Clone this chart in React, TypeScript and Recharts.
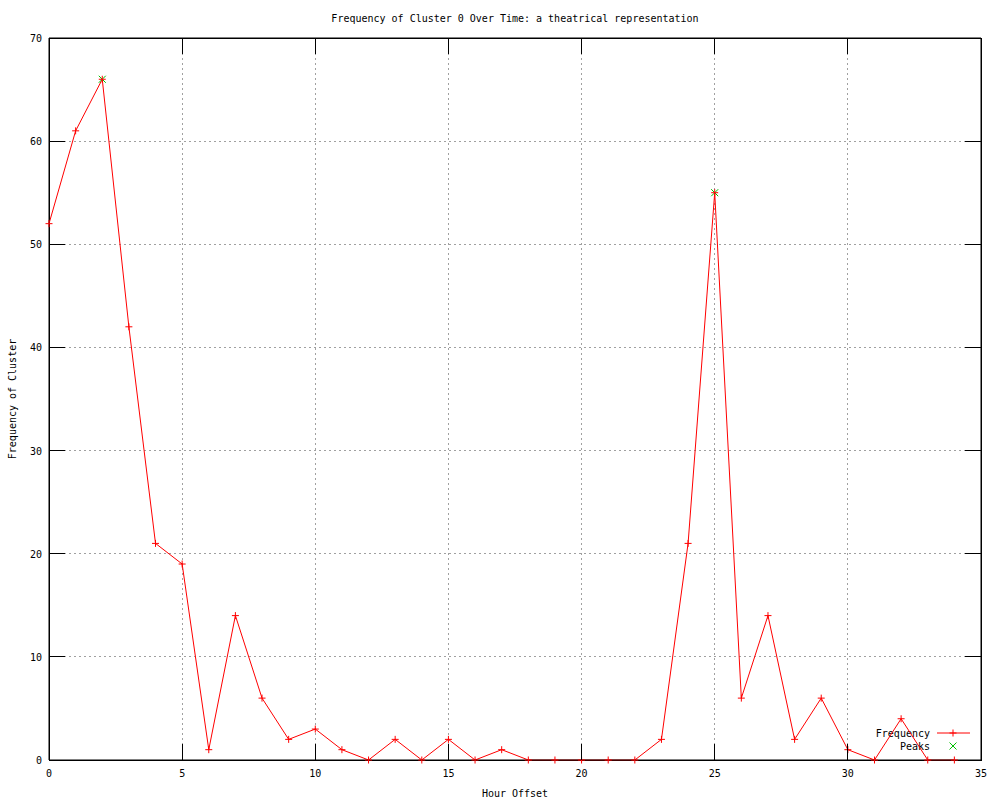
import React from 'react';
import { ComposedChart, Line, XAxis, YAxis, CartesianGrid, ReferenceArea } from 'recharts';

const hours = [0, 1, 2, 3, 4, 5, 6, 7, 8, 9, 10, 11, 12, 13, 14, 15, 16, 17, 18, 19, 20, 21, 22, 23, 24, 25, 26, 27, 28, 29, 30, 31, 32, 33, 34];
const frequency = [52, 61, 66, 42, 21, 19, 1, 14, 6, 2, 3, 1, 0, 2, 0, 2, 0, 1, 0, 0, 0, 0, 0, 2, 21, 55, 6, 14, 2, 6, 1, 0, 4, 0, 0];
const peakHours = [2, 25];
const peakValues = [66, 55];
const xTicks = [0, 5, 10, 15, 20, 25, 30, 35];
const yTicks = [0, 10, 20, 30, 40, 50, 60, 70];

const TITLE = 'Frequency of Cluster 0 Over Time: a theatrical representation';
const X_LABEL = 'Hour Offset';
const Y_LABEL = 'Frequency of Cluster';
const SERIES_NAME = 'Frequency';
const PEAKS_NAME = 'Peaks';

const freqData = hours.map((h, i) => ({ x: h, y: frequency[i] }));
const peakData = peakHours.map((h, i) => ({ x: h, y: peakValues[i] }));

const FONT = '"DejaVu Sans Mono", monospace';
const RED = '#ff0000';
const GREEN = '#00c000';
const TICK_LEN = 16;

const BottomTick = (props: any) => {
  const { x, y, payload } = props;
  return (
    <g>
      <line x1={x} y1={y} x2={x} y2={y - TICK_LEN} stroke="#000" strokeWidth={1} shapeRendering="crispEdges" />
      <text x={x} y={y + 17} textAnchor="middle" fontFamily={FONT} fontSize={10} fill="#000">
        {payload.value}
      </text>
    </g>
  );
};

const TopTick = (props: any) => {
  const { x, y } = props;
  return (
    <g>
      <line x1={x} y1={y} x2={x} y2={y + TICK_LEN} stroke="#000" strokeWidth={1} shapeRendering="crispEdges" />
    </g>
  );
};

const LeftTick = (props: any) => {
  const { x, y, payload } = props;
  return (
    <g>
      <line x1={x} y1={y} x2={x + TICK_LEN} y2={y} stroke="#000" strokeWidth={1} shapeRendering="crispEdges" />
      <text x={x - 7} y={y + 4} textAnchor="end" fontFamily={FONT} fontSize={10} fill="#000">
        {payload.value}
      </text>
    </g>
  );
};

const RightTick = (props: any) => {
  const { x, y } = props;
  return (
    <g>
      <line x1={x} y1={y} x2={x - TICK_LEN} y2={y} stroke="#000" strokeWidth={1} shapeRendering="crispEdges" />
    </g>
  );
};

const PlusDot = (props: any) => {
  const { cx, cy, index } = props;
  if (cx == null || cy == null) return <g key={`p-${index}`} />;
  return (
    <path
      key={`p-${index}`}
      d={`M${cx - 3.5},${cy}H${cx + 3.5}M${cx},${cy - 3.5}V${cy + 3.5}`}
      stroke={RED}
      strokeWidth={1}
      fill="none"
    />
  );
};

const CrossDot = (props: any) => {
  const { cx, cy, index } = props;
  if (cx == null || cy == null) return <g key={`c-${index}`} />;
  return (
    <path
      key={`c-${index}`}
      d={`M${cx - 3.5},${cy - 3.5}L${cx + 3.5},${cy + 3.5}M${cx - 3.5},${cy + 3.5}L${cx + 3.5},${cy - 3.5}`}
      stroke={GREEN}
      strokeWidth={1}
      fill="none"
    />
  );
};

const YLabel = (props: any) => {
  const vb = props.viewBox || { x: 0, y: 38, width: 49, height: 722 };
  const cx = vb.x + 16;
  const cy = vb.y + vb.height / 2;
  return (
    <text
      x={cx}
      y={cy}
      transform={`rotate(-90, ${cx}, ${cy})`}
      textAnchor="middle"
      fontFamily={FONT}
      fontSize={10}
      fill="#000"
    >
      {Y_LABEL}
    </text>
  );
};

export default function App() {
  return (
    <div style={{ position: 'absolute', left: 0, top: 0, width: 1000, height: 800, background: '#fff' }}>
      <ComposedChart width={1000} height={800} margin={{ top: 37, right: 18, bottom: 0, left: 0 }}>
        <CartesianGrid stroke="#a0a0a0" strokeDasharray="2 3" shapeRendering="crispEdges" />
        <XAxis
          dataKey="x"
          type="number"
          domain={[0, 35]}
          ticks={xTicks}
          height={40}
          tickSize={0}
          tickMargin={0}
          tickLine={false}
          tick={<BottomTick />}
          stroke="#000"
          interval={0}
          label={{ value: X_LABEL, position: 'insideBottom', offset: 3, fontFamily: FONT, fontSize: 10, fill: '#000' }}
        />
        <XAxis
          xAxisId="top"
          orientation="top"
          dataKey="x"
          type="number"
          domain={[0, 35]}
          ticks={xTicks}
          height={1}
          tickSize={0}
          tickMargin={0}
          tickLine={false}
          tick={<TopTick />}
          stroke="#000"
          interval={0}
        />
        <YAxis
          dataKey="y"
          type="number"
          domain={[0, 70]}
          ticks={yTicks}
          width={49}
          tickSize={0}
          tickMargin={0}
          tickLine={false}
          tick={<LeftTick />}
          stroke="#000"
          interval={0}
          label={<YLabel />}
        />
        <YAxis
          yAxisId="right"
          orientation="right"
          dataKey="y"
          type="number"
          domain={[0, 70]}
          ticks={yTicks}
          width={1}
          tickSize={0}
          tickMargin={0}
          tickLine={false}
          tick={<RightTick />}
          stroke="#000"
          interval={0}
        />
        <ReferenceArea
          x1={0}
          x2={35}
          y1={0}
          y2={70}
          fill="none"
          fillOpacity={0}
          stroke="#000"
          strokeWidth={1}
          ifOverflow="visible"
          shapeRendering="crispEdges"
        />
        <Line
          data={peakData}
          xAxisId="top"
          yAxisId="right"
          dataKey="y"
          name={PEAKS_NAME}
          stroke="none"
          dot={CrossDot}
          activeDot={false}
          isAnimationActive={false}
          legendType="none"
        />
        <Line
          data={freqData}
          dataKey="y"
          name={SERIES_NAME}
          type="linear"
          stroke={RED}
          strokeWidth={1}
          dot={PlusDot}
          activeDot={false}
          isAnimationActive={false}
        />
        <text x={515} y={22} textAnchor="middle" fontFamily={FONT} fontSize={10} fill="#000">
          {TITLE}
        </text>
        <g>
          <text x={930} y={737} textAnchor="end" fontFamily={FONT} fontSize={10} fill="#000">
            {SERIES_NAME}
          </text>
          <line x1={937} y1={733} x2={970} y2={733} stroke={RED} />
          <path d="M949.5,733H956.5M953,729.5V736.5" stroke={RED} fill="none" />
          <text x={930} y={750} textAnchor="end" fontFamily={FONT} fontSize={10} fill="#000">
            {PEAKS_NAME}
          </text>
          <path d="M949.5,742.5L956.5,749.5M949.5,749.5L956.5,742.5" stroke={GREEN} fill="none" />
        </g>
      </ComposedChart>
    </div>
  );
}
